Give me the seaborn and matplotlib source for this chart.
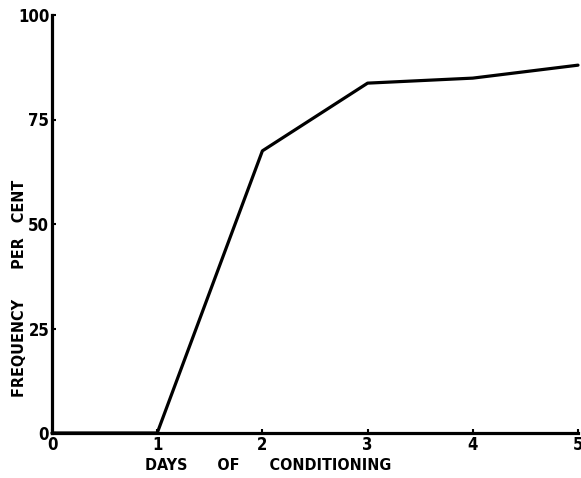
import numpy as np
import pandas as pd
import matplotlib
matplotlib.use("Agg")
import matplotlib.pyplot as plt
import seaborn as sns

# Values
days = [0, 1, 2, 3, 4, 5]
frequency = [0, 0, 67.5, 83.7, 84.9, 88.0]
x_ticks = [0, 1, 2, 3, 4, 5]
y_ticks = [0, 25, 50, 75, 100]

df = pd.DataFrame({"days": days, "frequency": frequency})

sns.set_style("ticks")
plt.rcParams['font.family'] = ['DejaVu Sans']
plt.rcParams['font.stretch'] = 'condensed'
plt.rcParams['text.color'] = 'black'
plt.rcParams['axes.labelcolor'] = 'black'
plt.rcParams['xtick.color'] = 'black'
plt.rcParams['ytick.color'] = 'black'

fig = plt.figure(figsize=(5.81, 4.78), dpi=100)
ax = fig.add_axes([52 / 581, 1 - 433 / 478, 526 / 581, 418 / 478])

sns.lineplot(data=df, x="days", y="frequency", ax=ax, color="black",
             linewidth=2.3, clip_on=False)

ax.set_xlim(0, 5)
ax.set_ylim(0, 100)
ax.set_xticks(x_ticks)
ax.set_yticks(y_ticks)
ax.set_xticklabels([str(t) for t in x_ticks], fontsize=12, fontweight="bold",
                   fontstretch="condensed")
ax.set_yticklabels([str(t) for t in y_ticks], fontsize=12, fontweight="bold",
                   fontstretch="condensed")
ax.tick_params(axis="both", length=3, width=1.5, direction="in", pad=2)

sns.despine(ax=ax)
for side in ["left", "bottom"]:
    ax.spines[side].set_linewidth(2.3)
    ax.spines[side].set_color("black")

ax.set_xlabel("DAYS      OF      CONDITIONING", fontsize=11.5, fontweight="bold",
              fontstretch="condensed")
ax.set_ylabel("FREQUENCY      PER   CENT", fontsize=11.5, fontweight="bold",
              fontstretch="condensed")
ax.xaxis.set_label_coords(0.41, -0.06)
ax.yaxis.set_label_coords(-0.048, 0.345)

fig.savefig("out.png", dpi=100)
